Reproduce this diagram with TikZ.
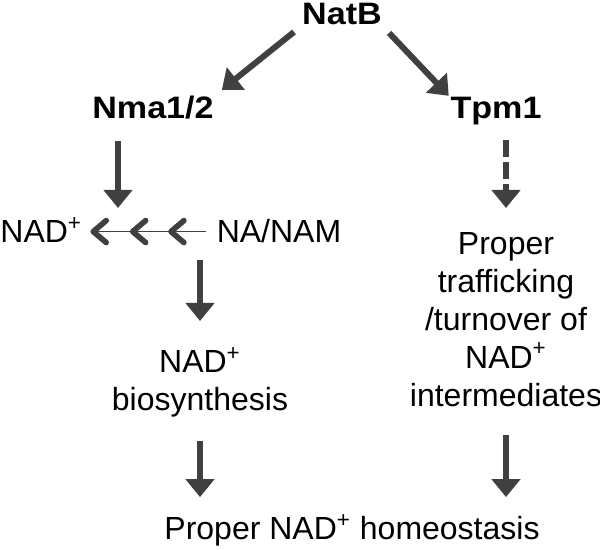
\documentclass[tikz,border=0pt]{standalone}
\usepackage{fontspec}
\setmainfont{Liberation Sans}
\newfontfamily\boldwide[FakeStretch=1.1]{Liberation Sans Bold}
\usetikzlibrary{arrows.meta, decorations.markings, positioning}
\definecolor{arrowgrey}{HTML}{404040}
\tikzset{
  chev/.tip = {Straight Barb[length=6.5pt, width=11pt, line width=2.8pt, round]},
  txt/.style = {inner sep=0pt, align=center, font=\fontsize{16}{19}\selectfont},
  head/.style = {inner sep=0pt, anchor=base, font=\fontsize{15.5}{19}\selectfont\boldwide},
  bigarrow/.style = {draw=arrowgrey, line width=3pt, -{Triangle[length=9pt, width=14pt]}},
  dasharrow/.style = {bigarrow, dash pattern=on 8.5pt off 2.5pt},
  chevline/.style = {draw=arrowgrey, line width=0.85pt, -chev,
    postaction={decorate},
    decoration={markings,
      mark=at position 0.33 with {\arrow{chev}},
      mark=at position 0.66 with {\arrow{chev}}}},
}

\begin{document}
\begin{tikzpicture}[x=0.5pt, y=-0.5pt]
    \useasboundingbox (0,0) rectangle (600,550);
    % Proteine
    \node[head] (natb) at (342,25) {NatB};
    \node[head] (nma)  at (153,119) {Nma1/2};
    \node[head] (tpm)  at (496,119) {Tpm1};
    % NAD+ e precursori
    \node[txt, anchor=base west, inner sep=4pt] (nadl) at (-8,243) {NAD\textsuperscript{+}};
    \node[txt, anchor=base, inner sep=5pt] (nanam) at (279,243) {NA/NAM};
    \coordinate (nadin) at (118,232);
    \node[txt, anchor=north] (biosyn) at (200,347) {NAD\textsuperscript{+}\\biosynthesis};
    \node[txt, anchor=north] (traffic) at (506,232)
        {Proper\\trafficking\\/turnover of\\NAD\textsuperscript{+}\\intermediates};
    \node[txt, anchor=base] (homeo) at (352,540) {Proper NAD\textsuperscript{+} homeostasis};
    % Frecce
    \draw[bigarrow, shorten <=5pt, shorten >=5pt] (natb.south west) -- (nma.north east);
    \draw[bigarrow, shorten <=5pt, shorten >=1pt] (natb.south east) -- (tpm.north west);
    \draw[bigarrow, shorten <=10.5pt, shorten >=12pt] (nma.south -| nadin) -- (nadin);
    \draw[dasharrow, shorten <=7pt, shorten >=12pt] (tpm.south -| traffic.north) -- (traffic.north);
    \draw[chevline] (nanam.west) -- (nanam.west -| nadl.east);
    \draw[bigarrow, shorten <=3pt, shorten >=13pt] (nanam.south -| biosyn.north) -- (biosyn.north);
    \draw[bigarrow, shorten <=11.5pt, shorten >=8.5pt] (biosyn.south) -- (biosyn.south |- homeo.north);
    \draw[bigarrow, shorten <=14pt, shorten >=8.5pt] (traffic.south) -- (traffic.south |- homeo.north);
\end{tikzpicture}
\end{document}
